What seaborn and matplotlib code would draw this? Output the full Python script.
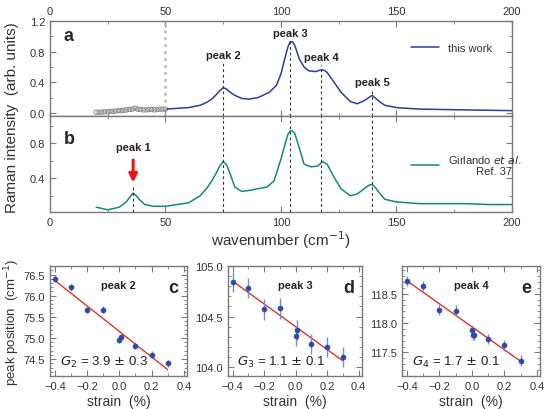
import numpy as np
import pandas as pd
import matplotlib
matplotlib.use('Agg')
import matplotlib.pyplot as plt
from matplotlib.ticker import MultipleLocator
import seaborn as sns

sns.set_style('ticks')
plt.rcParams['font.family'] = ['Liberation Sans', 'DejaVu Sans']

# спектр (a) - эта работа
wn_a = [50, 55, 60, 65, 68, 70, 72, 73.5, 75, 76.5, 78, 80, 83, 86, 90, 95, 98, 100, 102,
        103, 104, 105, 106, 108, 110, 112, 115, 117, 118.5, 120, 123, 126, 130, 133, 136,
        138, 139.5, 141, 143, 145, 150, 160, 170, 180, 190, 200]
int_a = [0.05, 0.06, 0.07, 0.10, 0.14, 0.18, 0.24, 0.29, 0.33, 0.31, 0.27, 0.23, 0.19,
         0.18, 0.20, 0.27, 0.36, 0.51, 0.75, 0.86, 0.93, 0.93, 0.88, 0.70, 0.60, 0.55,
         0.54, 0.56, 0.56, 0.53, 0.40, 0.27, 0.15, 0.12, 0.16, 0.20, 0.23, 0.19, 0.14,
         0.10, 0.07, 0.05, 0.045, 0.04, 0.035, 0.03]

# открытые кружки ниже 50 см-1
wn_open = [20, 21.2, 22.4, 23.6, 24.8, 26, 27.2, 28.4, 29.6, 30.8, 32, 33.2, 34.4, 35.6,
           36.8, 38, 39.2, 40.4, 41.6, 42.8, 44, 45.2, 46.4, 47.6, 48.8, 50]
int_open = [0.01, 0.01, 0.01, 0.015, 0.015, 0.02, 0.02, 0.025, 0.03, 0.03, 0.035, 0.04,
            0.045, 0.05, 0.06, 0.05, 0.045, 0.04, 0.04, 0.045, 0.045, 0.04, 0.045, 0.05,
            0.05, 0.05]

# спектр (b) - Girlando et al.
wn_b = [20, 25, 30, 33, 35, 36, 37, 39, 41, 45, 50, 55, 60, 65, 68, 70, 72, 73.5, 75,
        76.5, 78, 80, 83, 86, 90, 94, 97, 100, 102, 103, 104, 105, 106, 108, 110, 113,
        116, 118, 120, 123, 126, 130, 133, 136, 138, 139.5, 141, 143, 145, 150, 160, 170,
        180, 190, 200]
int_b = [0.07, 0.04, 0.07, 0.13, 0.20, 0.23, 0.21, 0.15, 0.10, 0.08, 0.08, 0.10, 0.12,
         0.20, 0.29, 0.37, 0.46, 0.54, 0.59, 0.55, 0.45, 0.30, 0.25, 0.26, 0.28, 0.30,
         0.37, 0.62, 0.81, 0.90, 0.94, 0.94, 0.91, 0.74, 0.56, 0.53, 0.54, 0.59, 0.56,
         0.41, 0.28, 0.20, 0.22, 0.28, 0.32, 0.33, 0.29, 0.22, 0.16, 0.13, 0.11, 0.11,
         0.11, 0.10, 0.10]

peak_pos = [75, 104, 117.5, 139.5]
peak_names = ['peak 2', 'peak 3', 'peak 4', 'peak 5']
peak_label_y = [0.69, 0.98, 0.66, 0.34]
peak_line_top = [0.66, 0.96, 0.63, 0.31]

# сдвиг пиков от деформации
strain = [-0.4, -0.3, -0.2, -0.1, 0.0, 0.01, 0.1, 0.2, 0.3]
pos_p2 = [76.40, 76.20, 75.67, 75.67, 74.96, 75.02, 74.82, 74.60, 74.40]
err_p2 = [0.08, 0.08, 0.08, 0.08, 0.08, 0.08, 0.08, 0.08, 0.08]
pos_p3 = [104.84, 104.78, 104.57, 104.58, 104.31, 104.37, 104.23, 104.20, 104.10]
err_p3 = [0.10, 0.10, 0.10, 0.10, 0.10, 0.10, 0.10, 0.10, 0.10]
strain_e = [-0.4, -0.3, -0.2, -0.1, 0.0, 0.005, 0.015, 0.1, 0.2, 0.3]
pos_p4 = [118.72, 118.63, 118.23, 118.21, 117.88, 117.80, 117.80, 117.73, 117.62, 117.36]
err_p4 = [0.09, 0.09, 0.09, 0.09, 0.09, 0.09, 0.09, 0.09, 0.09, 0.09]

fit_x = [-0.4, 0.3]
fit_p2 = [76.36, 74.25]
fit_p3 = [104.85, 104.06]
fit_p4 = [118.72, 117.35]

blue = '#2b3f9b'
teal = '#108a80'
pt_blue = '#2d4ba5'
err_blue = '#6f8fd0'
spine_c = '#7a7a7a'

fig = plt.figure(figsize=(5.46, 4.10), dpi=100)
ax_a = fig.add_axes([0.0916, 0.7146, 0.846, 0.2317])
ax_b = fig.add_axes([0.0916, 0.4805, 0.846, 0.2341])
ax_c = fig.add_axes([0.0916, 0.0805, 0.251, 0.268])
ax_d = fig.add_axes([0.4176, 0.0805, 0.245, 0.268])
ax_e = fig.add_axes([0.7363, 0.0805, 0.253, 0.268])


def style_axis(ax):
    for sp in ax.spines.values():
        sp.set_visible(True)
        sp.set_color(spine_c)
        sp.set_linewidth(1.0)
    ax.tick_params(which='both', direction='in', top=True, right=True,
                   color=spine_c, labelsize=8, labelcolor='#333333')
    ax.tick_params(which='major', length=4)
    ax.tick_params(which='minor', length=2)


# --- панель a
sns.lineplot(x=wn_a, y=int_a, ax=ax_a, color=blue, lw=1.1, label='this work')
sns.scatterplot(x=wn_open, y=int_open, ax=ax_a, marker='o', s=10, facecolor='none',
                edgecolor='#888888', linewidth=0.7)
ax_a.axvline(50, color='#c0c0c0', ls=(0, (1, 1.5)), lw=2)
for p, t, name, ly in zip(peak_pos, peak_line_top, peak_names, peak_label_y):
    ax_a.plot([p, p], [-0.04, t], color='#333333', ls=(0, (2.5, 2.5)), lw=0.8)
    ax_a.text(p, ly, name, ha='center', va='bottom', fontsize=8, fontweight='bold',
              color='#222222')
ax_a.set_xlim(0, 200)
ax_a.set_ylim(-0.04, 1.2)
ax_a.set_yticks([0.0, 0.4, 0.8, 1.2])
ax_a.yaxis.set_minor_locator(MultipleLocator(0.2))
ax_a.xaxis.set_major_locator(MultipleLocator(50))
ax_a.xaxis.set_minor_locator(MultipleLocator(25))
style_axis(ax_a)
ax_a.tick_params(labeltop=True, labelbottom=False)
ax_a.text(0.03, 0.8, 'a', transform=ax_a.transAxes, fontsize=13, fontweight='bold')
ax_a.legend(loc='upper left', bbox_to_anchor=(0.76, 0.87), frameon=False, fontsize=8,
            handlelength=2.5, labelcolor='#333333')

# --- панель b
sns.lineplot(x=wn_b, y=int_b, ax=ax_b, color=teal, lw=1.1,
             label='Girlando $\\it{et\\ al.}$\n         Ref. 37')
for p in peak_pos:
    ax_b.axvline(p, color='#333333', ls=(0, (2.5, 2.5)), lw=0.8)
ax_b.plot([36, 36], [0.015, 0.30], color='#333333', ls=(0, (2.5, 2.5)), lw=0.8)
ax_b.annotate('', xy=(36, 0.32), xytext=(36, 0.64),
              arrowprops=dict(arrowstyle='-|>', color='#e8141c', lw=2.2, mutation_scale=12))
ax_b.text(36, 0.70, 'peak 1', ha='center', va='bottom', fontsize=8, fontweight='bold',
          color='#222222')
ax_b.set_xlim(0, 200)
ax_b.set_ylim(0.015, 1.11)
ax_b.set_yticks([0.4, 0.8])
ax_b.yaxis.set_minor_locator(MultipleLocator(0.2))
ax_b.xaxis.set_major_locator(MultipleLocator(50))
ax_b.xaxis.set_minor_locator(MultipleLocator(25))
style_axis(ax_b)
ax_b.text(0.03, 0.72, 'b', transform=ax_b.transAxes, fontsize=13, fontweight='bold')
ax_b.set_xlabel('wavenumber (cm$^{-1}$)', fontsize=11, color='#333333', labelpad=1)
ax_b.legend(loc='upper left', bbox_to_anchor=(0.76, 0.72), frameon=False, fontsize=8,
            handlelength=2.5, labelcolor='#333333')

fig.text(0.022, 0.714, 'Raman intensity  (arb. units)', rotation=90, ha='center',
         va='center', fontsize=11, color='#333333')

# --- панели c, d, e
panels = [
    (ax_c, strain, pos_p2, err_p2, fit_p2, 'peak 2', 'c', '$G_2$ = 3.9 $\\pm$ 0.3',
     (74.1, 76.7), [74.5, 75.0, 75.5, 76.0, 76.5], 0.1),
    (ax_d, strain, pos_p3, err_p3, fit_p3, 'peak 3', 'd', '$G_3$ = 1.1 $\\pm$ 0.1',
     (103.91, 105.0), [104.0, 104.5, 105.0], 0.1),
    (ax_e, strain_e, pos_p4, err_p4, fit_p4, 'peak 4', 'e', '$G_4$ = 1.7 $\\pm$ 0.1',
     (117.1, 118.97), [117.5, 118.0, 118.5], 0.1),
]
for ax, xs, ys, es, fy, name, letter, gtxt, ylim, yt, ymin in panels:
    sns.lineplot(x=fit_x, y=fy, ax=ax, color='#e8302c', lw=1.0)
    ax.errorbar(xs, ys, yerr=es, fmt='none', ecolor=err_blue, elinewidth=1.0, capsize=0)
    sns.scatterplot(x=xs, y=ys, ax=ax, color=pt_blue, s=14, edgecolor=pt_blue, zorder=3)
    ax.set_xlim(-0.43, 0.42)
    ax.set_ylim(*ylim)
    ax.set_yticks(yt)
    ax.yaxis.set_minor_locator(MultipleLocator(ymin))
    ax.set_xticks([-0.4, -0.2, 0.0, 0.2, 0.4])
    ax.xaxis.set_minor_locator(MultipleLocator(0.1))
    style_axis(ax)
    ax.set_xlabel('strain  (%)', fontsize=10, color='#333333', labelpad=2)
    ax.text(0.5, 0.8, name, transform=ax.transAxes, ha='center', fontsize=8,
            fontweight='bold', color='#222222')
    ax.text(0.9, 0.76, letter, transform=ax.transAxes, ha='center', fontsize=13,
            fontweight='bold')
    ax.text(0.07, 0.1, gtxt, transform=ax.transAxes, fontsize=9.5, color='#222222')

ax_c.set_ylabel('peak position  (cm$^{-1}$)', fontsize=9.5, color='#333333', labelpad=1)

fig.savefig('out.png', dpi=100)
